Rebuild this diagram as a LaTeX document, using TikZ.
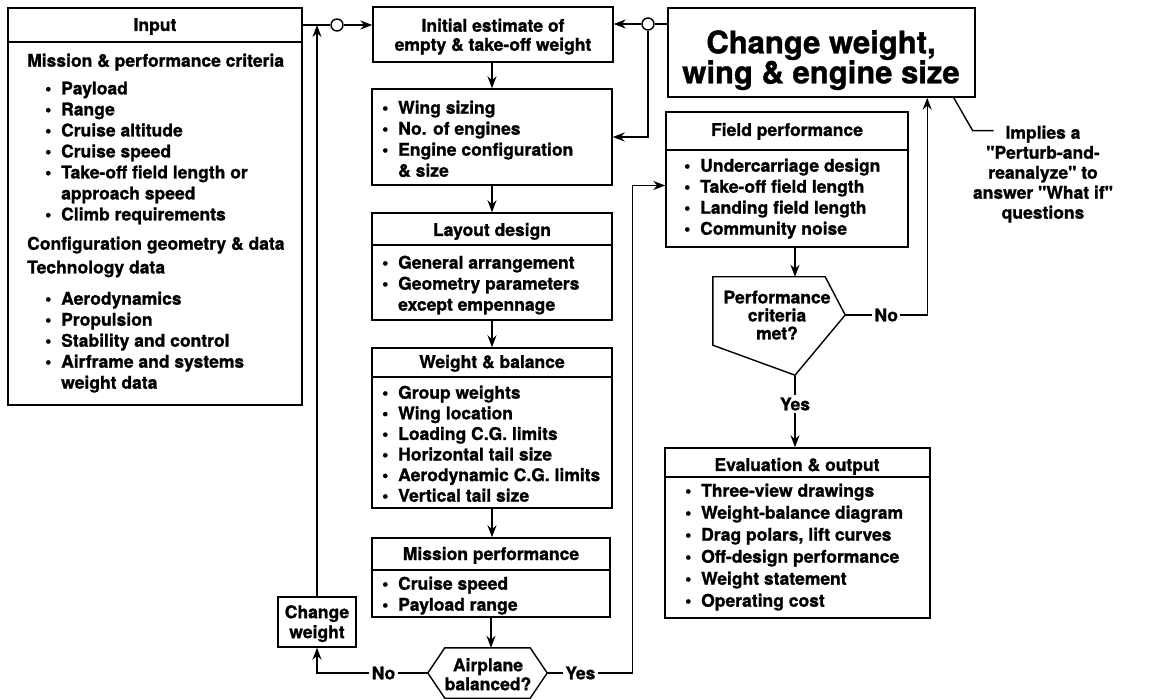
\documentclass[tikz,border=0pt]{standalone}
\usepackage{fontspec}
\setmainfont{TeX Gyre Heros}[Ligatures=TeXOff, BoldFeatures={FakeBold=1.2}]
\usetikzlibrary{arrows.meta,fit}

\newcommand\bul{\makebox[16pt][l]{\textbullet}}
\newcommand\ind{\hspace*{16pt}}

\tikzset{
  box/.style={draw, line width=1.4pt, inner sep=0pt},
  wire/.style={line width=1.4pt},
  flow/.style={line width=1.4pt, -{Stealth[length=12pt,width=9pt]}},
  txt/.style={font=\bfseries\fontsize{17.5}{21}\selectfont, inner sep=0pt, align=left, anchor=north west},
  head/.style={font=\bfseries\fontsize{17.5}{21}\selectfont, inner sep=0pt, anchor=base},
  ctr/.style={font=\bfseries\fontsize{17.5}{19}\selectfont, inner sep=0pt, align=center, anchor=north},
  lbl/.style={font=\bfseries\fontsize{17.5}{21}\selectfont, fill=white, inner sep=2.5pt},
  junc/.style={circle, draw, fill=white, line width=1.4pt, minimum size=12pt, inner sep=0pt}
}

\begin{document}
\begin{tikzpicture}[x=1pt, y=-1pt]
  \useasboundingbox (0,0) rectangle (1152,700);

  %%%%% input box %%%%%
  \node[box, fit={(8,8) (302,405)}] (input) {};
  \draw[wire] (8,42) -- (302,42);
  \node[head] (inhead) at (155,31) {Input};
  \node[txt] (mission) at (27,53.5) {Mission \& performance criteria};
  \node[txt] (missionlist) at (45,81.5) {\bul Payload\\\bul Range\\\bul Cruise altitude\\\bul Cruise speed\\\bul Take-off field length or\\\ind approach speed\\\bul Climb requirements};
  \node[txt] (config) at (27,236.5) {Configuration geometry \& data};
  \node[txt] (techno) at (27,260.5) {Technology data};
  \node[txt] (techlist) at (45,291.5) {\bul Aerodynamics\\\bul Propulsion\\\bul Stability and control\\\bul Airframe and systems\\\ind weight data};

  %%%%% main column %%%%%
  \node[box, fit={(373,7) (613,62)}] (initial) {};
  \node[ctr] (initialtxt) at (493,18.5) {Initial estimate of\\empty \& take-off weight};

  \node[box, fit={(372,89) (612,185)}] (wing) {};
  \node[txt] (winglist) at (382,100.5) {\bul Wing sizing\\\bul No. of engines\\\bul Engine configuration\\\ind \& size};

  \node[box, fit={(372,213) (612,320)}] (layout) {};
  \draw[wire] (372,245) -- (612,245);
  \node[head] (layouthead) at (492,236) {Layout design};
  \node[txt] (layoutlist) at (382,255.5) {\bul General arrangement\\\bul Geometry parameters\\\ind except empennage};

  \node[box, fit={(372,348) (612,508)}] (wb) {};
  \draw[wire] (372,377) -- (612,377);
  \node[head] (wbhead) at (492,368) {Weight \& balance};
  \node[txt, font=\bfseries\fontsize{17.5}{20.6}\selectfont] (wblist) at (382,385.5) {\bul Group weights\\\bul Wing location\\\bul Loading C.G. limits\\\bul Horizontal tail size\\\bul Aerodynamic C.G. limits\\\bul Vertical tail size};

  \node[box, fit={(372,538) (610,617)}] (mission) {};
  \draw[wire] (372,570) -- (610,570);
  \node[head] (missionhead) at (491,560) {Mission performance};
  \node[txt] (missionperf) at (382,576.5) {\bul Cruise speed\\\bul Payload range};

  % balance check
  \node[inner sep=0pt, fit={(428,648) (547,698)}] (bal) {};
  \draw[wire] (bal.west) -- ([xshift=17pt]bal.north west) -- ([xshift=-17pt]bal.north east) -- (bal.east)
    -- ([xshift=-17pt]bal.south east) -- ([xshift=17pt]bal.south west) -- cycle;
  \node[ctr] (baltxt) at (488,658) {Airplane\\balanced?};

  \node[box, fit={(278,597) (356,647)}] (cweight) {};
  \node[ctr, font=\bfseries\fontsize{17.5}{20}\selectfont] (cweighttxt) at (317,605) {Change\\weight};

  %%%%% right column %%%%%
  \node[box, fit={(668,8) (975,97)}] (big) {};
  \node[ctr, font=\bfseries\fontsize{31}{30}\selectfont] (bigtxt) at (821,30) {Change weight,\\wing \& engine size};

  \node[box, fit={(666,112) (908,247)}] (field) {};
  \draw[wire] (666,150) -- (908,150);
  \node[head] (fieldhead) at (787,136) {Field performance};
  \node[txt] (fieldlist) at (684,158.5) {\bul Undercarriage design\\\bul Take-off field length\\\bul Landing field length\\\bul Community noise};

  % performance check
  \node[inner sep=0pt, fit={(713,277) (845,375)}] (perf) {};
  \coordinate (perftop) at ([xshift=16pt]perf.north);
  \coordinate (perfbot) at ([xshift=16pt]perf.south);
  \coordinate (perfright) at ([yshift=11pt]perf.east);
  \draw[wire] (perf.north west) -- ([xshift=-20pt]perf.north east) -- (perfright) -- (perfbot)
    -- ([yshift=30pt]perf.south west) -- cycle;
  \node[ctr, font=\bfseries\fontsize{17.5}{18}\selectfont] (perftxt) at (777,290.5) {Performance\\criteria\\met?};

  \node[box, fit={(665,448) (930,618)}] (eval) {};
  \draw[wire] (665,477) -- (930,477);
  \node[head] (evalhead) at (797,471) {Evaluation \& output};
  \node[txt, font=\bfseries\fontsize{17.5}{22}\selectfont] (evallist) at (685,483.5) {\bul Three-view drawings\\\bul Weight-balance diagram\\\bul Drag polars, lift curves\\\bul Off-design performance\\\bul Weight statement\\\bul Operating cost};

  \node[ctr, font=\bfseries\fontsize{17.5}{20}\selectfont] (note) at (1043,125.5) {Implies a\\"Perturb-and-\\reanalyze" to\\answer "What if"\\questions};

  %%%%% connectors %%%%%
  \node[junc] (jl) at (337,25) {};
  \node[junc] (jr) at (648,24) {};
  \draw[wire] (input.east |- jl) -- (jl.west);
  \draw[flow] (jl.east) -- (initial.west |- jl);
  \draw[wire] (big.west |- jr) -- (jr.east);
  \draw[flow] (jr.west) -- (initial.east |- jr);
  \draw[flow] (jr.south) |- (wing.east);

  \draw[flow] (initial.south -| wing.north) -- (wing.north);
  \draw[flow] (wing.south) -- (layout.north);
  \draw[flow] (layout.south) -- (wb.north);
  \draw[flow] (wb.south) -- (wb.south |- mission.north);
  \draw[flow] (mission.south) -- (mission.south |- bal.north);

  \draw[flow] (bal.west) -- node[lbl, pos=.4] {No} (cweight.south |- bal.west) -- (cweight.south);
  \draw[flow] (cweight.north) -- (cweight.north |- jl);
  \draw[flow] (bal.east) -- node[lbl, pos=.39] {Yes} ++(85,0) |- ([yshift=-6pt]field.west);

  \draw[flow] (field.south -| perftop) -- (perftop);
  \draw[flow] (perfbot) -- node[lbl, pos=.4] {Yes} (perfbot |- eval.north);
  \draw[flow] (perfright) -- node[lbl] {No} ++(82,0) coordinate (noturn) -- (noturn |- big.south);

  \draw[wire] ([xshift=-22pt]big.south east) -- ++(19,33) -- ++(21,0);
\end{tikzpicture}
\end{document}
